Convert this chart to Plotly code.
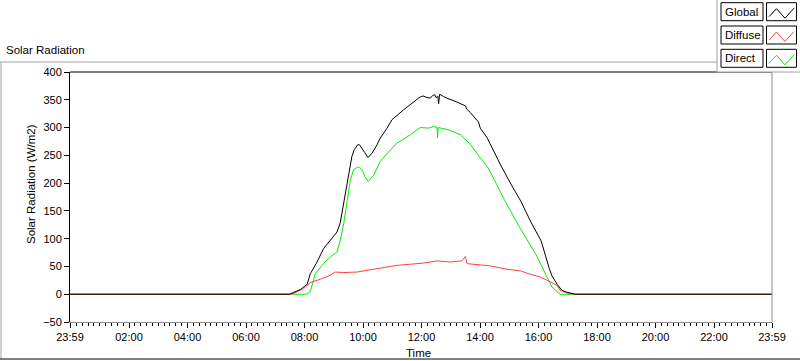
import plotly.graph_objects as go

# ---------------- data (hours of day, W/m2) ----------------
hours_global = [-0.017, 7.48, 7.86, 8.09, 8.20, 8.43, 8.65, 8.88, 9.11, 9.22, 9.32, 9.40, 9.51, 9.62,
                9.70, 9.82, 9.88, 9.97, 10.06, 10.17, 10.31, 10.46, 10.59, 10.81, 10.99, 11.39, 11.73,
                11.85, 11.96, 12.05, 12.19, 12.30, 12.39, 12.45, 12.50, 12.56, 12.585, 12.62, 12.75,
                12.87, 13.21, 13.50, 13.55, 13.67, 13.95, 14.01, 14.25, 14.72, 15.06, 15.40, 15.74,
                16.09, 16.37, 16.46, 16.65, 16.80, 16.97, 17.15, 17.26, 23.983]
global_rad = [0, 0, 8.5, 18, 37, 58, 82, 97, 112, 128, 158, 185, 221, 248,
              260, 269, 269, 263, 255, 246, 254, 267, 281, 298, 314, 332, 347,
              351, 355, 357, 354, 353, 358, 359, 354, 356, 343, 360, 356,
              353, 346, 339, 333, 327, 310, 299, 281, 231, 198, 167, 130,
              96, 46, 33, 17, 7, 3.6, 1.8, 0, 0]

hours_diffuse = [-0.017, 7.57, 7.97, 8.20, 8.54, 8.88, 9.05, 9.34, 9.80, 10.25, 10.70, 11.16, 11.62,
                 12.07, 12.53, 12.98, 13.38, 13.50, 13.56, 13.90, 14.35, 14.92, 15.38, 15.72, 16.07,
                 16.41, 16.63, 16.74, 16.97, 17.19, 23.983]
diffuse_rad = [0, 0, 10, 21, 27, 34, 40, 39, 40, 44, 49, 52, 54,
               56, 60, 58, 60, 68, 55, 53, 51, 45, 42, 36, 31,
               22, 16, 7, 2.4, 0, 0]

hours_direct = [-0.017, 8.07, 8.20, 8.37, 8.65, 8.88, 9.11, 9.22, 9.34, 9.45, 9.57, 9.68, 9.82, 9.88,
                9.97, 10.06, 10.18, 10.36, 10.59, 10.87, 11.16, 11.62, 11.96, 12.24, 12.40, 12.53,
                12.55, 12.57, 12.93, 13.33, 13.67, 14.01, 14.25, 14.50, 14.81, 15.38, 15.95, 16.29,
                16.46, 16.69, 16.75, 23.983]
direct_rad = [0, 0, 5, 37, 55, 67, 76, 97, 127, 164, 206, 224, 229, 228,
              224, 212, 203, 214, 239, 256, 272, 287, 300, 299, 302, 300,
              282, 300, 296, 287, 270, 245, 230, 205, 172, 118, 68, 31,
              13, 2, 0, 0]

tick_vals = [-0.017, 2, 4, 6, 8, 10, 12, 14, 16, 18, 20, 22, 23.983]
tick_text = ["23:59", "02:00", "04:00", "06:00", "08:00", "10:00", "12:00",
             "14:00", "16:00", "18:00", "20:00", "22:00", "23:59"]
series_names = ["Global", "Diffuse", "Direct"]
series_colors = ["#000000", "#ff4040", "#00ee00"]

assert len(hours_global) == len(global_rad)
assert len(hours_diffuse) == len(diffuse_rad)
assert len(hours_direct) == len(direct_rad)

# ---------------- layout geometry ----------------
W, H = 800, 361
L, R, T, B = 70, 28, 72, 39
PW, PH = W - L - R, H - T - B


def px(x):
    return (x - L) / PW


def py(y):
    return (H - B - y) / PH


FONT = "Liberation Sans"

fig = go.Figure()
for xs, ys, name, col in [(hours_direct, direct_rad, series_names[2], series_colors[2]),
                          (hours_diffuse, diffuse_rad, series_names[1], series_colors[1]),
                          (hours_global, global_rad, series_names[0], series_colors[0])]:
    fig.add_trace(go.Scatter(x=xs, y=ys, mode="lines", name=name,
                             line=dict(color=col, width=1), showlegend=False))

shapes = []
grey = "#a0a0a0"
# plot frame: top black, right grey
shapes.append(dict(type="line", xref="paper", yref="paper", x0=0, x1=1, y0=1, y1=1,
                   line=dict(color="#000000", width=1)))
shapes.append(dict(type="line", xref="paper", yref="paper", x0=1, x1=1, y0=0, y1=1,
                   line=dict(color="#8c8c8c", width=1)))
# outer panel lines
shapes.append(dict(type="line", xref="paper", yref="paper", x0=px(0), x1=px(717), y0=py(62), y1=py(62),
                   line=dict(color=grey, width=1)))
shapes.append(dict(type="line", xref="paper", yref="paper", x0=px(1), x1=px(1), y0=py(62), y1=py(359),
                   line=dict(color=grey, width=1)))
shapes.append(dict(type="line", xref="paper", yref="paper", x0=px(0), x1=px(800), y0=py(359), y1=py(359),
                   line=dict(color="#000000", width=1)))
# legend panel
shapes.append(dict(type="rect", xref="paper", yref="paper", x0=px(717), x1=px(801), y0=py(72), y1=py(-1),
                   line=dict(color=grey, width=1), fillcolor="#ffffff", layer="above"))

annotations = []
row_tops = [2.7, 26.0, 49.3]
for name, col, top in zip(series_names, series_colors, row_tops):
    bot = top + 18
    shapes.append(dict(type="rect", xref="paper", yref="paper", x0=px(721), x1=px(763),
                       y0=py(bot), y1=py(top), line=dict(color="#000000", width=1),
                       fillcolor="#ffffff", layer="above"))
    shapes.append(dict(type="rect", xref="paper", yref="paper", x0=px(766.5), x1=px(796.5),
                       y0=py(bot), y1=py(top), line=dict(color="#000000", width=1),
                       fillcolor="#ffffff", layer="above"))
    path = "M {:.4f},{:.4f} L {:.4f},{:.4f} L {:.4f},{:.4f} L {:.4f},{:.4f}".format(
        px(769), py(top + 14), px(776.5), py(top + 6), px(785), py(top + 15.5), px(794), py(top + 5.5))
    shapes.append(dict(type="path", xref="paper", yref="paper", path=path,
                       line=dict(color=col, width=1), layer="above"))
    annotations.append(dict(text=name, xref="paper", yref="paper", x=px(723), y=py(top + 9),
                            xanchor="left", yanchor="middle", showarrow=False,
                            font=dict(family=FONT, size=11.5, color="#000000")))

annotations.append(dict(text="Solar Radiation", xref="paper", yref="paper", x=px(4), y=py(50),
                        xanchor="left", yanchor="middle", showarrow=False,
                        font=dict(family=FONT, size=11.5, color="#000000")))
# axis titles
annotations.append(dict(text="Time", xref="paper", yref="paper", x=px(418), y=py(353),
                        xanchor="center", yanchor="middle", showarrow=False,
                        font=dict(family=FONT, size=11.5, color="#000000")))
annotations.append(dict(text="Solar Radiation (W/m2)", xref="paper", yref="paper", x=px(31), y=py(184),
                        xanchor="center", yanchor="middle", showarrow=False, textangle=-90,
                        font=dict(family=FONT, size=11.5, color="#000000")))

fig.update_layout(
    width=W, height=H,
    margin=dict(l=L, r=R, t=T, b=B, pad=0),
    paper_bgcolor="#ffffff", plot_bgcolor="#ffffff",
    font=dict(family=FONT, size=11, color="#000000"),
    shapes=shapes, annotations=annotations,
    showlegend=False,
)
fig.update_xaxes(range=[-0.017, 23.983], tickmode="array", tickvals=tick_vals, ticktext=tick_text,
                 automargin=False,
                 showgrid=False, zeroline=False, showline=True, linecolor="#8c8c8c", linewidth=1,
                 ticks="outside", ticklen=5, tickcolor="#000000", tickwidth=1,
                 tickfont=dict(family=FONT, size=11, color="#000000"),
                 minor=dict(tickmode="linear", tick0=0, dtick=0.2, ticks="outside", ticklen=3,
                            tickcolor="#000000", tickwidth=1, showgrid=False))
fig.update_yaxes(range=[-50, 400], tickmode="linear", tick0=0, dtick=50,
                 automargin=False,
                 showgrid=False, zeroline=False, showline=True, linecolor="#000000", linewidth=1,
                 ticks="outside", ticklen=5, tickcolor="#000000",
                 tickfont=dict(family=FONT, size=11, color="#000000"))

fig.write_html("out.html", config={"displayModeBar": False},
               post_script="document.body.style.margin='0';document.body.style.padding='0';")
